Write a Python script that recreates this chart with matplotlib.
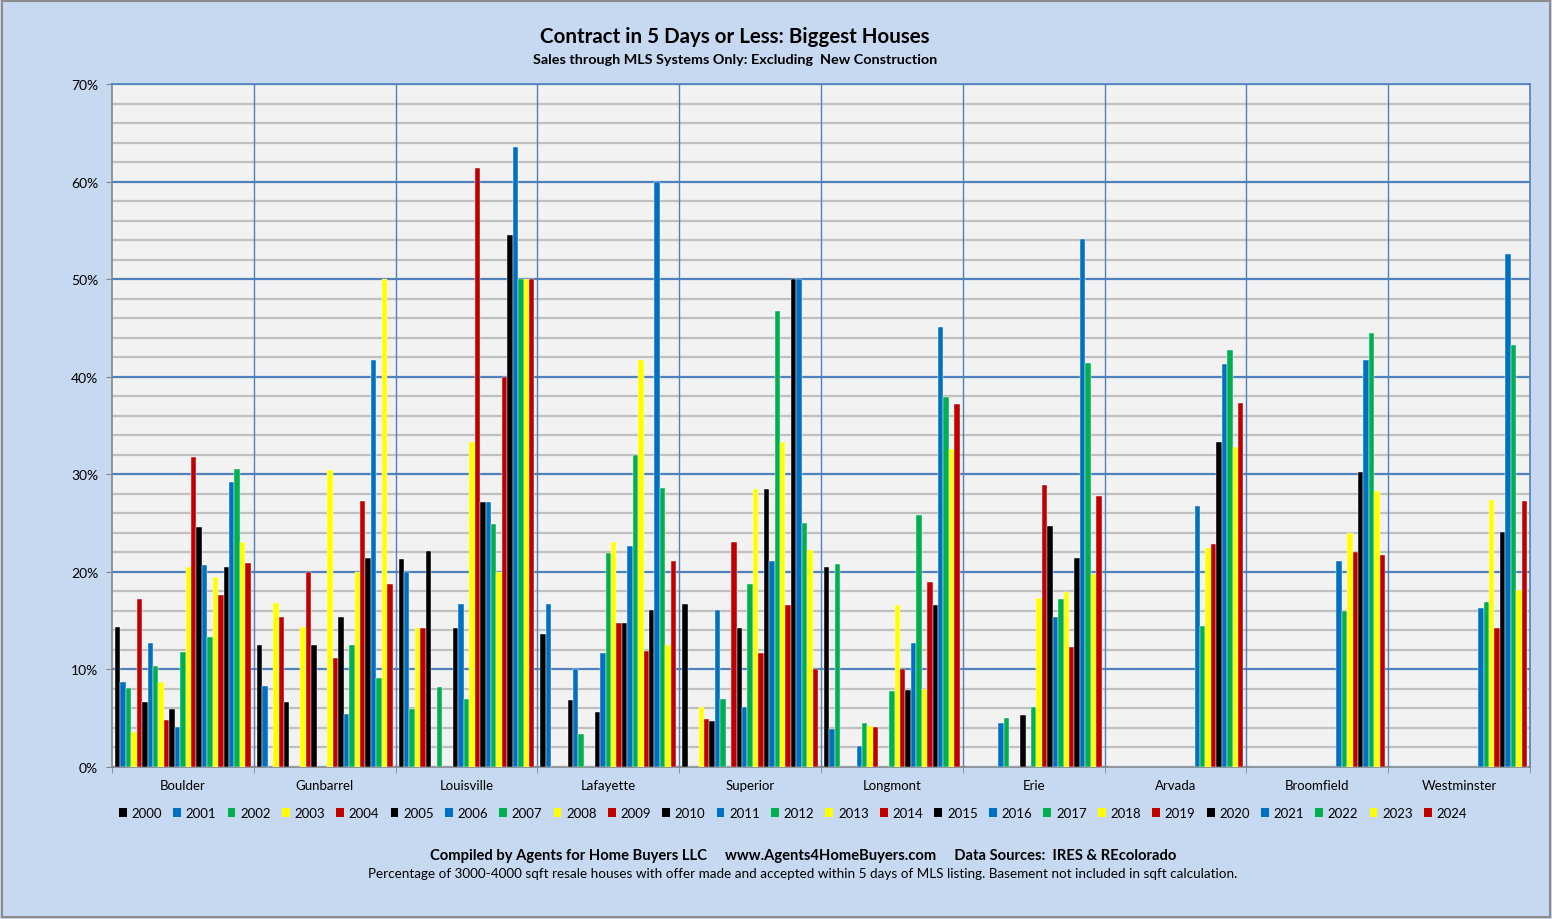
import numpy as np
import matplotlib
matplotlib.use("Agg")
import matplotlib.pyplot as plt
from matplotlib.patches import Patch, Rectangle

plt.rcParams["font.family"] = ["Lato", "DejaVu Sans"]

cities = ["Boulder", "Gunbarrel", "Louisville", "Lafayette", "Superior",
          "Longmont", "Erie", "Arvada", "Broomfield", "Westminster"]
years = [str(y) for y in range(2000, 2025)]

# percent of houses under contract in 5 days, one entry per year 2000..2024 (0 = no bar)
boulder = [14.3, 8.7, 8.1, 3.6, 17.2, 6.7, 12.7, 10.4, 8.7, 4.8, 5.9, 4.1, 11.8,
           20.5, 31.8, 24.6, 20.7, 13.3, 19.5, 17.6, 20.5, 29.2, 30.5, 23.1, 20.9]
gunbarrel = [12.5, 8.3, 0, 16.8, 15.4, 6.7, 0, 0, 14.3, 20.0, 12.5, 0, 0,
             30.4, 11.2, 15.4, 5.4, 12.5, 20.0, 27.3, 21.4, 41.7, 9.1, 50.0, 18.8]
louisville = [21.3, 20.0, 5.9, 14.2, 14.2, 22.1, 0, 8.2, 0, 0, 14.2, 16.7, 7.0,
              33.3, 61.4, 27.2, 27.2, 24.9, 20.0, 40.0, 54.5, 63.5, 50.0, 50.0, 50.0]
lafayette = [13.6, 16.7, 0, 0, 0, 6.9, 10.0, 3.4, 0, 0, 5.6, 11.7, 21.9,
             23.1, 14.8, 14.8, 22.6, 32.0, 41.7, 11.9, 16.1, 60.0, 28.6, 12.5, 21.1]
superior = [16.7, 0, 0, 6.2, 4.9, 4.7, 16.1, 7.0, 0, 23.1, 14.2, 6.2, 18.8,
            28.5, 11.7, 28.5, 21.1, 46.7, 33.3, 16.6, 50.0, 50.0, 25.0, 22.2, 10.0]
longmont = [20.5, 3.9, 20.8, 0, 0, 0, 2.2, 4.5, 4.2, 4.1, 0, 0, 7.8,
            16.6, 10.0, 7.9, 12.7, 25.8, 8.0, 19.0, 16.6, 45.1, 37.9, 32.6, 37.2]
erie = [0, 0, 0, 0, 0, 0, 4.5, 5.0, 0, 0, 5.3, 0, 6.1,
        17.3, 28.9, 24.7, 15.4, 17.2, 17.9, 12.3, 21.4, 54.1, 41.4, 19.8, 27.8]
arvada = [0, 0, 0, 0, 0, 0, 0, 0, 0, 0, 0, 0, 0,
          0, 0, 0, 26.7, 14.4, 22.4, 22.9, 33.3, 41.3, 42.7, 32.8, 37.3]
broomfield = [0, 0, 0, 0, 0, 0, 0, 0, 0, 0, 0, 0, 0,
              0, 0, 0, 21.1, 16.0, 24.0, 22.0, 30.2, 41.7, 44.5, 28.3, 21.7]
westminster = [0, 0, 0, 0, 0, 0, 0, 0, 0, 0, 0, 0, 0,
               0, 0, 0, 16.3, 16.9, 27.4, 14.2, 24.1, 52.6, 43.2, 18.1, 27.3]

palette = ["#000000", "#0070C0", "#00B050", "#FFFF00", "#C00000"]

values = np.array([boulder, gunbarrel, louisville, lafayette, superior,
                   longmont, erie, arvada, broomfield, westminster])

bg = "#C6D9F1"
fig = plt.figure(figsize=(15.52, 9.2), dpi=100, facecolor=bg)
ax = fig.add_axes([112 / 1552, 1 - 768 / 920, 1418 / 1552, 683 / 920])
ax.set_facecolor("#F2F2F2")

x = np.arange(len(cities))
bar_w = 0.0383
for i, yr in enumerate(years):
    offs = (i - 12) * bar_w
    ax.bar(x + offs, values[:, i], width=bar_w, color=palette[i % 5],
           edgecolor="white", linewidth=0.3, zorder=3)

ax.set_xlim(-0.5, len(cities) - 0.5)
ax.set_ylim(0, 70)
ax.set_yticks(np.arange(0, 71, 10))
ax.set_yticklabels([f"{v}%" for v in range(0, 71, 10)], fontsize=10)
ax.set_yticks(np.arange(0, 71, 2), minor=True)
ax.grid(axis="y", which="minor", color="#BFBFBF", linewidth=1.6, zorder=1)
ax.grid(axis="y", which="major", color="#4F81BD", linewidth=1.6, zorder=2)
for b in np.arange(0.5, len(cities) - 0.5, 1):
    ax.axvline(b, color="#4F81BD", linewidth=1.0, zorder=2)

ax.set_xticks(x)
ax.set_xticklabels(cities, fontsize=9.5)
ax.tick_params(axis="x", length=0, pad=9)
ax.set_xticks(np.arange(-0.5, len(cities), 1), minor=True)
ax.tick_params(axis="x", which="minor", length=4, color="#868686")
ax.tick_params(axis="y", which="major", length=4, color="#868686", pad=6)
ax.tick_params(axis="y", which="minor", length=0)

for s in ["left", "bottom"]:
    ax.spines[s].set_color("#868686")
    ax.spines[s].set_linewidth(1.2)
for s in ["top", "right"]:
    ax.spines[s].set_color("#4F81BD")
    ax.spines[s].set_linewidth(1.2)

handles = [Patch(facecolor=palette[i % 5], edgecolor="none", label=yr)
           for i, yr in enumerate(years)]
fig.legend(handles=handles, loc="center", bbox_to_anchor=(793 / 1552, 1 - 814 / 920),
           ncol=25, frameon=False, fontsize=9.5, handlelength=0.6, handleheight=0.6,
           handletextpad=0.35, columnspacing=0.85, borderaxespad=0)

fig.text(735 / 1552, 1 - 37 / 920, "Contract in 5 Days or Less: Biggest Houses",
         ha="center", va="center", fontsize=14.8, fontweight="bold")
fig.text(735 / 1552, 1 - 60 / 920, "Sales through MLS Systems Only: Excluding  New Construction",
         ha="center", va="center", fontsize=10.4, fontweight="bold")
fig.text(803 / 1552, 1 - 856 / 920,
         "Compiled by Agents for Home Buyers LLC     www.Agents4HomeBuyers.com     "
         "Data Sources:  IRES & REcolorado",
         ha="center", va="center", fontsize=10.6, fontweight="bold")
fig.text(803 / 1552, 1 - 874 / 920,
         "Percentage of 3000-4000 sqft resale houses with offer made and accepted "
         "within 5 days of MLS listing. Basement not included in sqft calculation.",
         ha="center", va="center", fontsize=9.75)

fig.patches.append(Rectangle((0.001, 0.002), 0.998, 0.996, transform=fig.transFigure,
                             fill=False, edgecolor="#8C8C8C", linewidth=1.5))

fig.savefig("out.png", dpi=100, facecolor=bg)
